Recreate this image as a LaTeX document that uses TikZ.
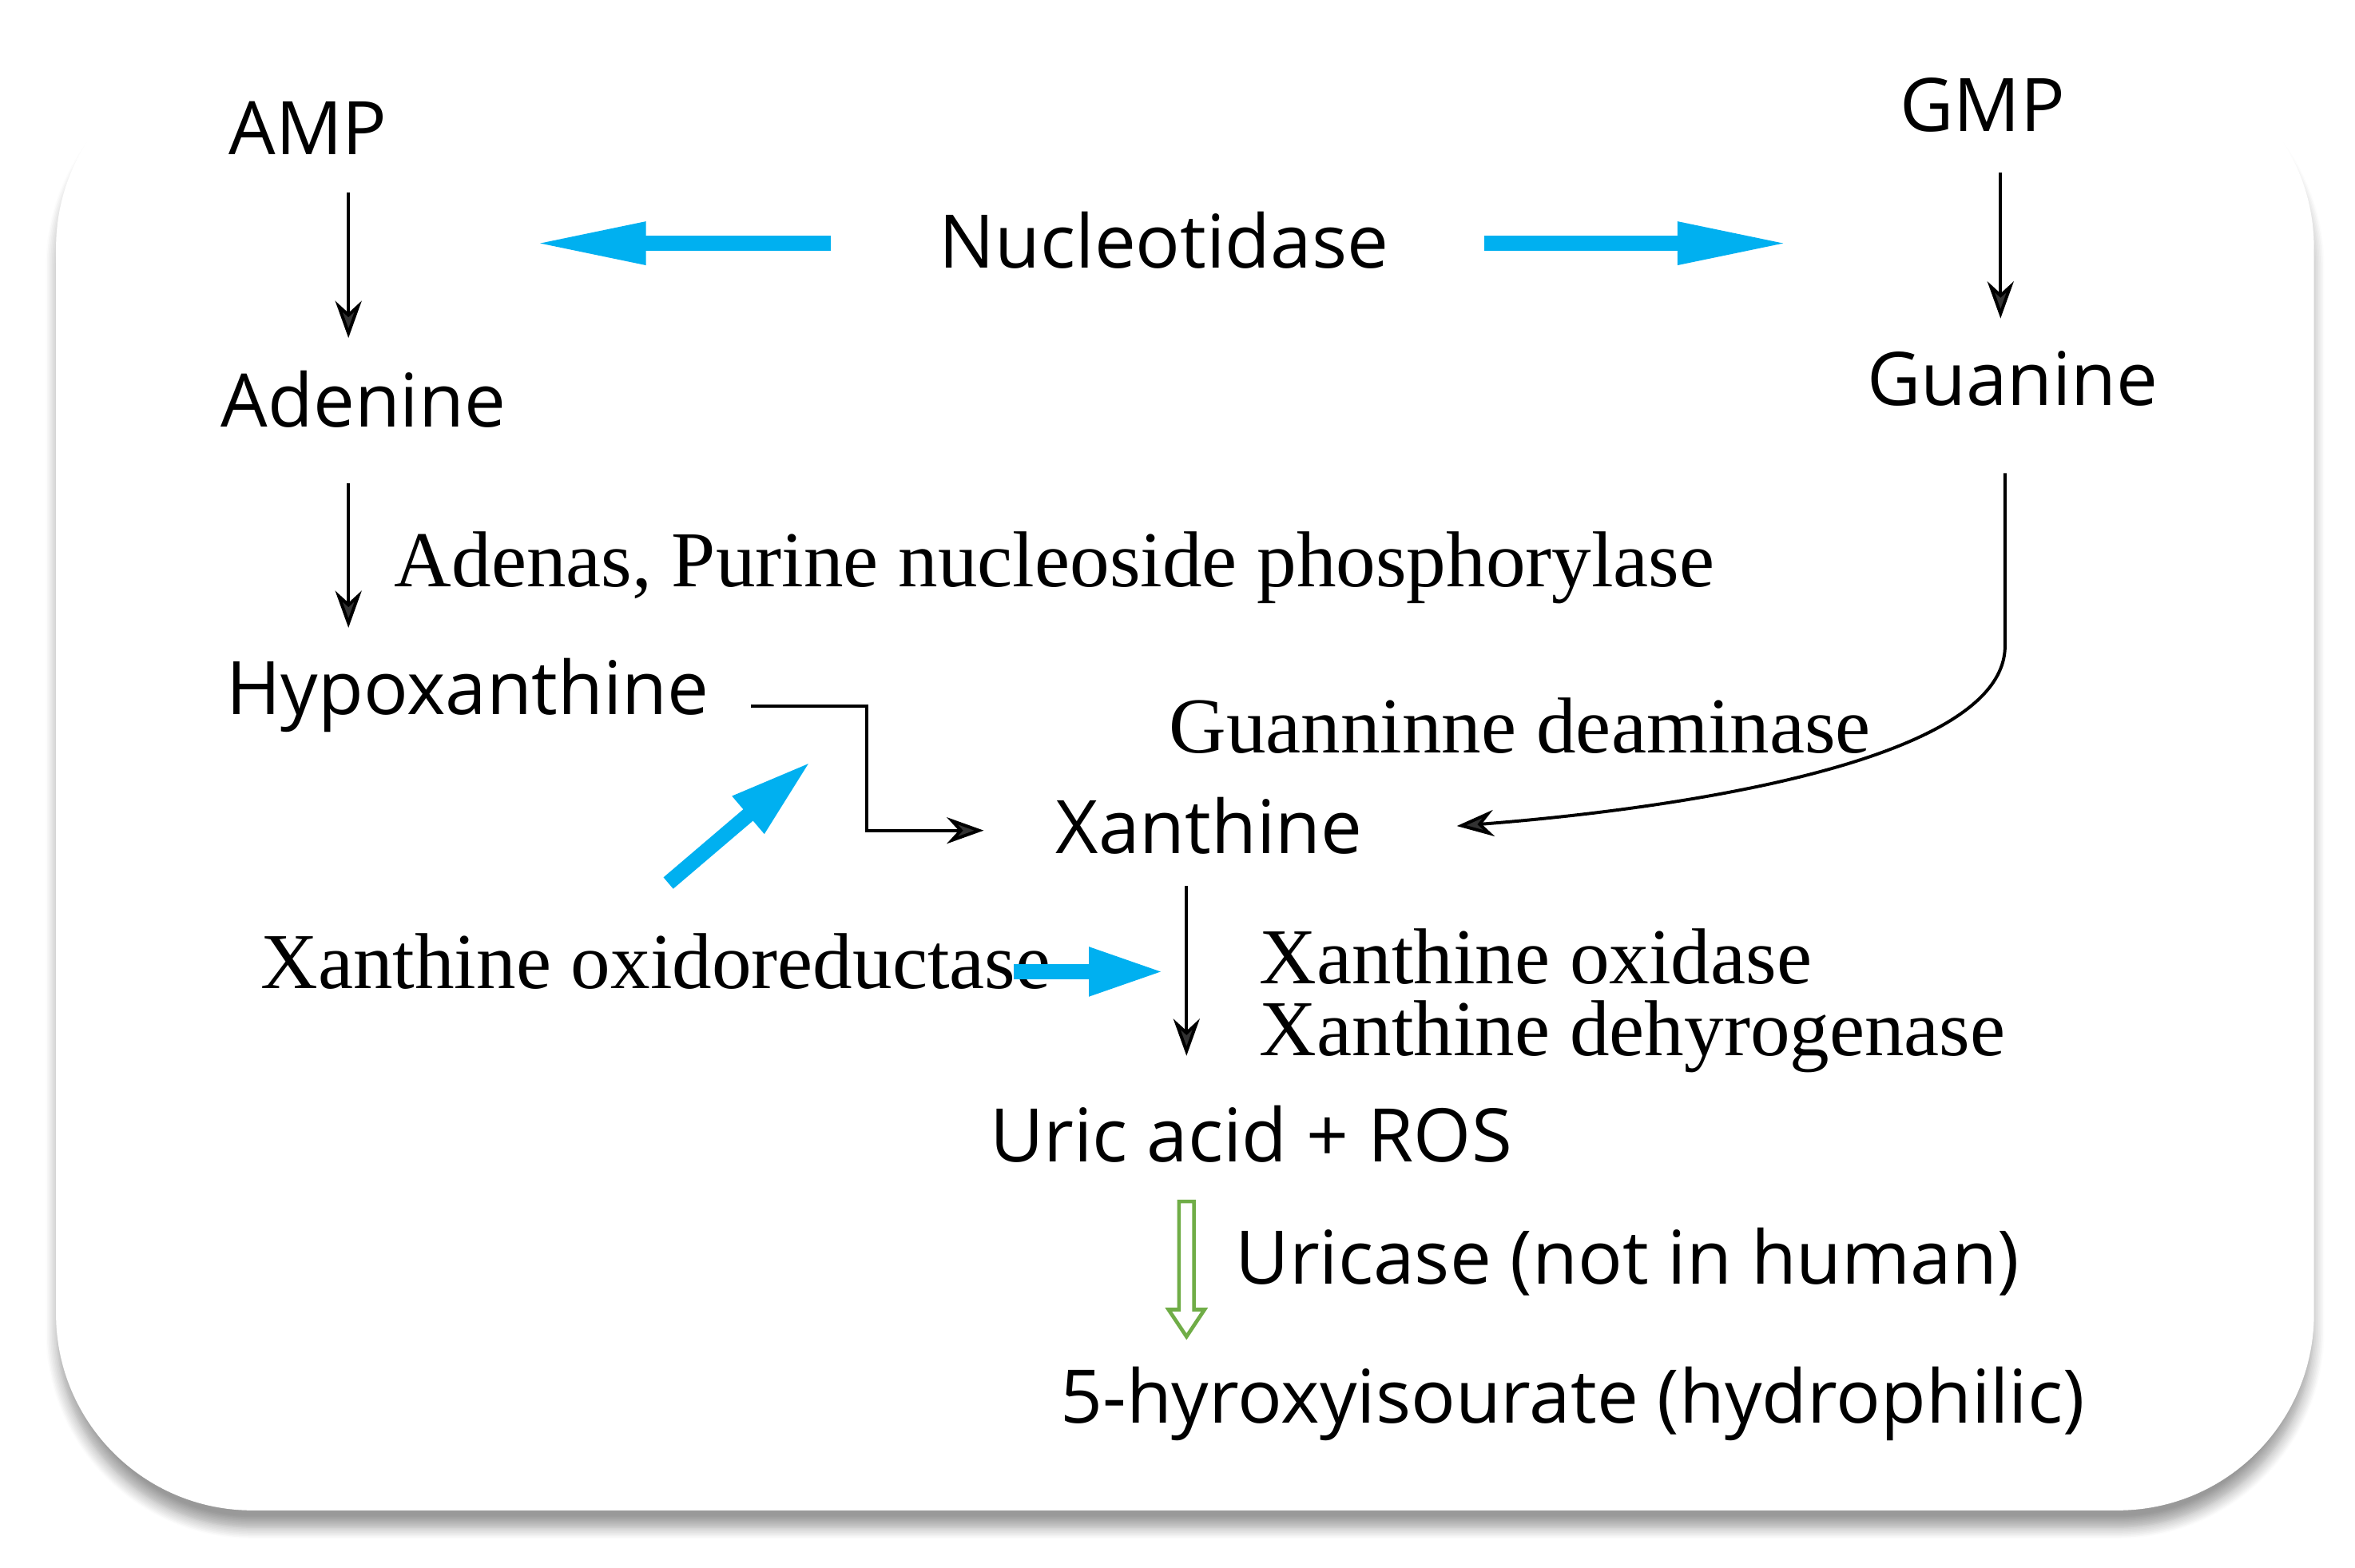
\documentclass[tikz,border=0pt]{standalone}
\usepackage{fontspec}
\setmainfont{Open Sans}
\newfontfamily\serifx{Liberation Serif}
\usetikzlibrary{arrows.meta,shadows.blur}
\definecolor{sky}{HTML}{00B0F0}
\definecolor{grn}{HTML}{70AD47}
\begin{document}
\begin{tikzpicture}[x=0.01cm,y=-0.01cm,
  sans/.style={font=\fontsize{14}{16}\selectfont, inner sep=0pt},
  ser/.style={font=\serifx\fontsize{15}{17}\selectfont, inner sep=0pt},
  blk/.style={-{Stealth[length=7pt,width=5pt]}, line width=0.6pt},
  blue/.style={draw=sky, line width=0.1cm, -{Triangle[length=0.75cm,width=0.26cm]}}]
\useasboundingbox (0,0) rectangle (1568,1044);
\draw[white, fill=white, rounded corners=1.3cm, blur shadow={shadow blur steps=10,shadow xshift=0pt,shadow yshift=-0.12cm,shadow opacity=40}] (38,35) rectangle (1540,1005);
\node[sans] (amp) at (205,85) {AMP};
\node[sans] (ade) at (242,266) {Adenine};
\node[sans,anchor=west] (hyp) at (150,463) {Hypoxanthine};
\node[sans] (xan) at (805,550) {Xanthine};
\node[sans] (uric) at (833,755) {Uric acid + ROS};
\node[sans] (hydro) at (1047,935) {5-hyroxyisourate (hydrophilic)};
\node[sans] (gmp) at (1320,70) {GMP};
\node[sans] (gua) at (1340,252) {Guanine};
\node[sans] (nuc) at (775,160) {Nucleotidase};
\node[sans,anchor=west] (urc) at (822,840) {Uricase (not in human)};
\node[ser,anchor=west] (adenas) at (262,378) {Adenas, Purine nucleoside phosphorylase};
\node[ser] (gdeam) at (1012,483) {Guanninne deaminase};
\node[ser,anchor=west] (xor) at (173,640) {Xanthine oxidoreductase};
\node[ser,anchor=west] (xo) at (838,637) {Xanthine oxidase};
\node[ser,anchor=west] (xd) at (838,690) {Xanthine dehyrogenase};
\coordinate (a1) at (232,128); \coordinate (a2) at (232,225);
\coordinate (b1) at (232,322); \coordinate (b2) at (232,418);
\coordinate (g1) at (1332,115); \coordinate (g2) at (1332,212);
\coordinate (h1) at (500,470); \coordinate (h2) at (655,553);
\coordinate (x1) at (790,590); \coordinate (x2) at (790,703);
\coordinate (c1) at (1335,315); \coordinate (c2) at (970,550);
\draw[blk] (a1) -- (a2);
\draw[blk] (b1) -- (b2);
\draw[blk] (g1) -- (g2);
\draw[blk] (h1) -- (577,470) -- (577,553) -- (h2);
\draw[blk] (x1) -- (x2);
\draw[blk] (c1) -- (1335,430) .. controls (1335,510) and (1100,540) .. (c2);
\coordinate (n1) at (553,162); \coordinate (n2) at (355,162);
\coordinate (n3) at (988,162); \coordinate (n4) at (1192,162);
\coordinate (o1) at (445,588); \coordinate (o2) at (540,507);
\coordinate (o3) at (675,647); \coordinate (o4) at (775,647);
\draw[blue] (n1) -- (n2);
\draw[blue] (n3) -- (n4);
\draw[blue,-{Triangle[length=0.55cm,width=0.3cm]}] (o1) -- (o2);
\draw[blue,-{Triangle[length=0.5cm,width=0.3cm]}] (o3) -- (o4);
\draw[grn, line width=0.7pt, line join=miter] (785,800) -- (795,800) -- (795,872) -- (802,872) -- (790,890) -- (778,872) -- (785,872) -- cycle;
\end{tikzpicture}
\end{document}
